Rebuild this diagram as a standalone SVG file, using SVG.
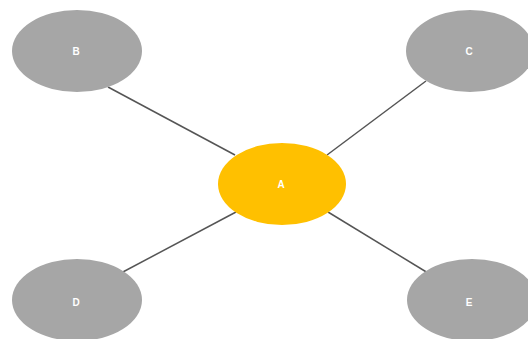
<svg xmlns="http://www.w3.org/2000/svg" width="528" height="339" viewBox="0 0 528 339">
<style>
.leaf{fill:#A6A6A6}
.hub{fill:#FFC000}
.lbl{font-family:"Liberation Sans",Arial,sans-serif;font-size:10px;font-weight:bold;fill:#FFFFFF;text-anchor:middle;dominant-baseline:central}
.edge{stroke:#555555;stroke-width:1.5;fill:none}
</style>
<rect width="528" height="339" fill="#FFFFFF"/>
<g id="connectors">
<line class="edge" x1="108" y1="87" x2="235" y2="155"/>
<line class="edge" x1="327" y1="155" x2="426" y2="81"/>
<line class="edge" x1="236" y1="212" x2="121" y2="273"/>
<line class="edge" x1="328" y1="212" x2="428" y2="273"/>
</g>
<g id="node-B"><ellipse class="leaf" cx="77" cy="51" rx="65" ry="41"/><text class="lbl" x="76" y="51">B</text></g>
<g id="node-C"><ellipse class="leaf" cx="470" cy="51" rx="64" ry="41"/><text class="lbl" x="469" y="51">C</text></g>
<g id="node-D"><ellipse class="leaf" cx="77" cy="300" rx="65" ry="41"/><text class="lbl" x="76" y="302">D</text></g>
<g id="node-E"><ellipse class="leaf" cx="472" cy="300" rx="65" ry="41"/><text class="lbl" x="469" y="302">E</text></g>
<g id="node-A"><ellipse class="hub" cx="282" cy="184" rx="64" ry="41"/><text class="lbl" x="281" y="184">A</text></g>
</svg>
